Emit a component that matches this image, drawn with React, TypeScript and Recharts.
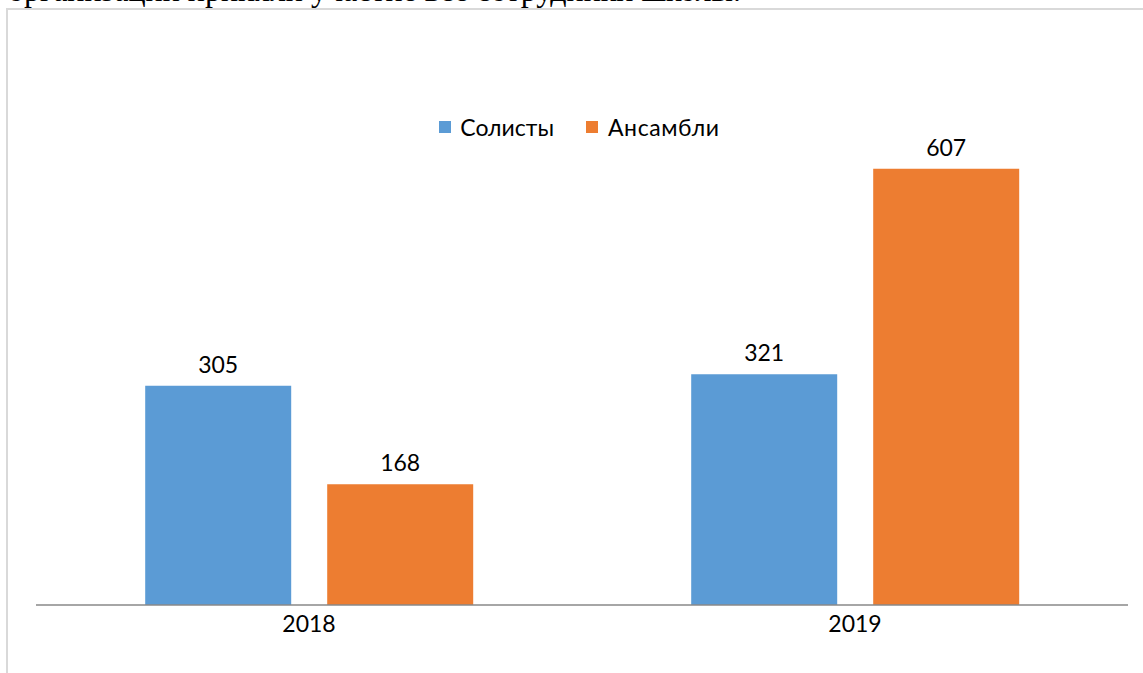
import { BarChart, Bar, XAxis, YAxis, Legend, LabelList } from 'recharts';

const years = ['2018', '2019'];
const soloists = [305, 321];
const ensembles = [168, 607];

const data = years.map((year, i) => ({
  year,
  soloists: soloists[i],
  ensembles: ensembles[i],
}));

const FONT = 'Lato, "Open Sans", sans-serif';

const LegendContent = () => (
  <div style={{ display: 'flex', justifyContent: 'center', alignItems: 'center', fontFamily: FONT, fontSize: 23, color: '#000', paddingLeft: 8 }}>
    <span style={{ width: 12, height: 12, background: '#5B9BD5', display: 'inline-block', marginRight: 9 }} />
    <span style={{ marginRight: 32 }}>Солисты</span>
    <span style={{ width: 12, height: 12, background: '#ED7D31', display: 'inline-block', marginRight: 10 }} />
    <span style={{ letterSpacing: 0.6 }}>Ансамбли</span>
  </div>
);

export default function App() {
  return (
    <div>
      <div
        style={{
          position: 'absolute',
          left: 8,
          top: -26,
          fontFamily: '"Liberation Serif", "Times New Roman", serif',
          fontSize: 32,
          lineHeight: '32px',
          whiteSpace: 'nowrap',
        }}
      >
        организации приняли участие все сотрудники школы.
      </div>
      <div
        style={{
          position: 'absolute',
          left: 6,
          top: 8,
          width: 1200,
          height: 700,
          borderTop: '2px solid #d9d9d9',
          borderLeft: '2px solid #d9d9d9',
          background: '#fff',
        }}
      >
        <BarChart
          width={1135}
          height={663}
          data={data}
          margin={{ top: 92, right: 15, bottom: 38, left: 28 }}
          barCategoryGap="20%"
          barGap={36}
        >
          <XAxis
            dataKey="year"
            axisLine={{ stroke: '#898989', strokeWidth: 1.5 }}
            tickLine={false}
            height={30}
            tick={{ fontFamily: FONT, fontSize: 23, fill: '#000' }}
            tickMargin={5}
          />
          <YAxis hide domain={[0, 700]} />
          <Legend
            layout="horizontal"
            verticalAlign="middle"
            align="center"
            wrapperStyle={{ top: 103, left: 0, width: '100%' }}
            content={<LegendContent />}
          />
          <Bar dataKey="soloists" name="Солисты" fill="#5B9BD5" isAnimationActive={false}>
            <LabelList dataKey="soloists" position="top" offset={13} style={{ fontFamily: FONT, fontSize: 23, fill: '#000' }} />
          </Bar>
          <Bar dataKey="ensembles" name="Ансамбли" fill="#ED7D31" isAnimationActive={false}>
            <LabelList dataKey="ensembles" position="top" offset={13} style={{ fontFamily: FONT, fontSize: 23, fill: '#000' }} />
          </Bar>
        </BarChart>
      </div>
    </div>
  );
}
